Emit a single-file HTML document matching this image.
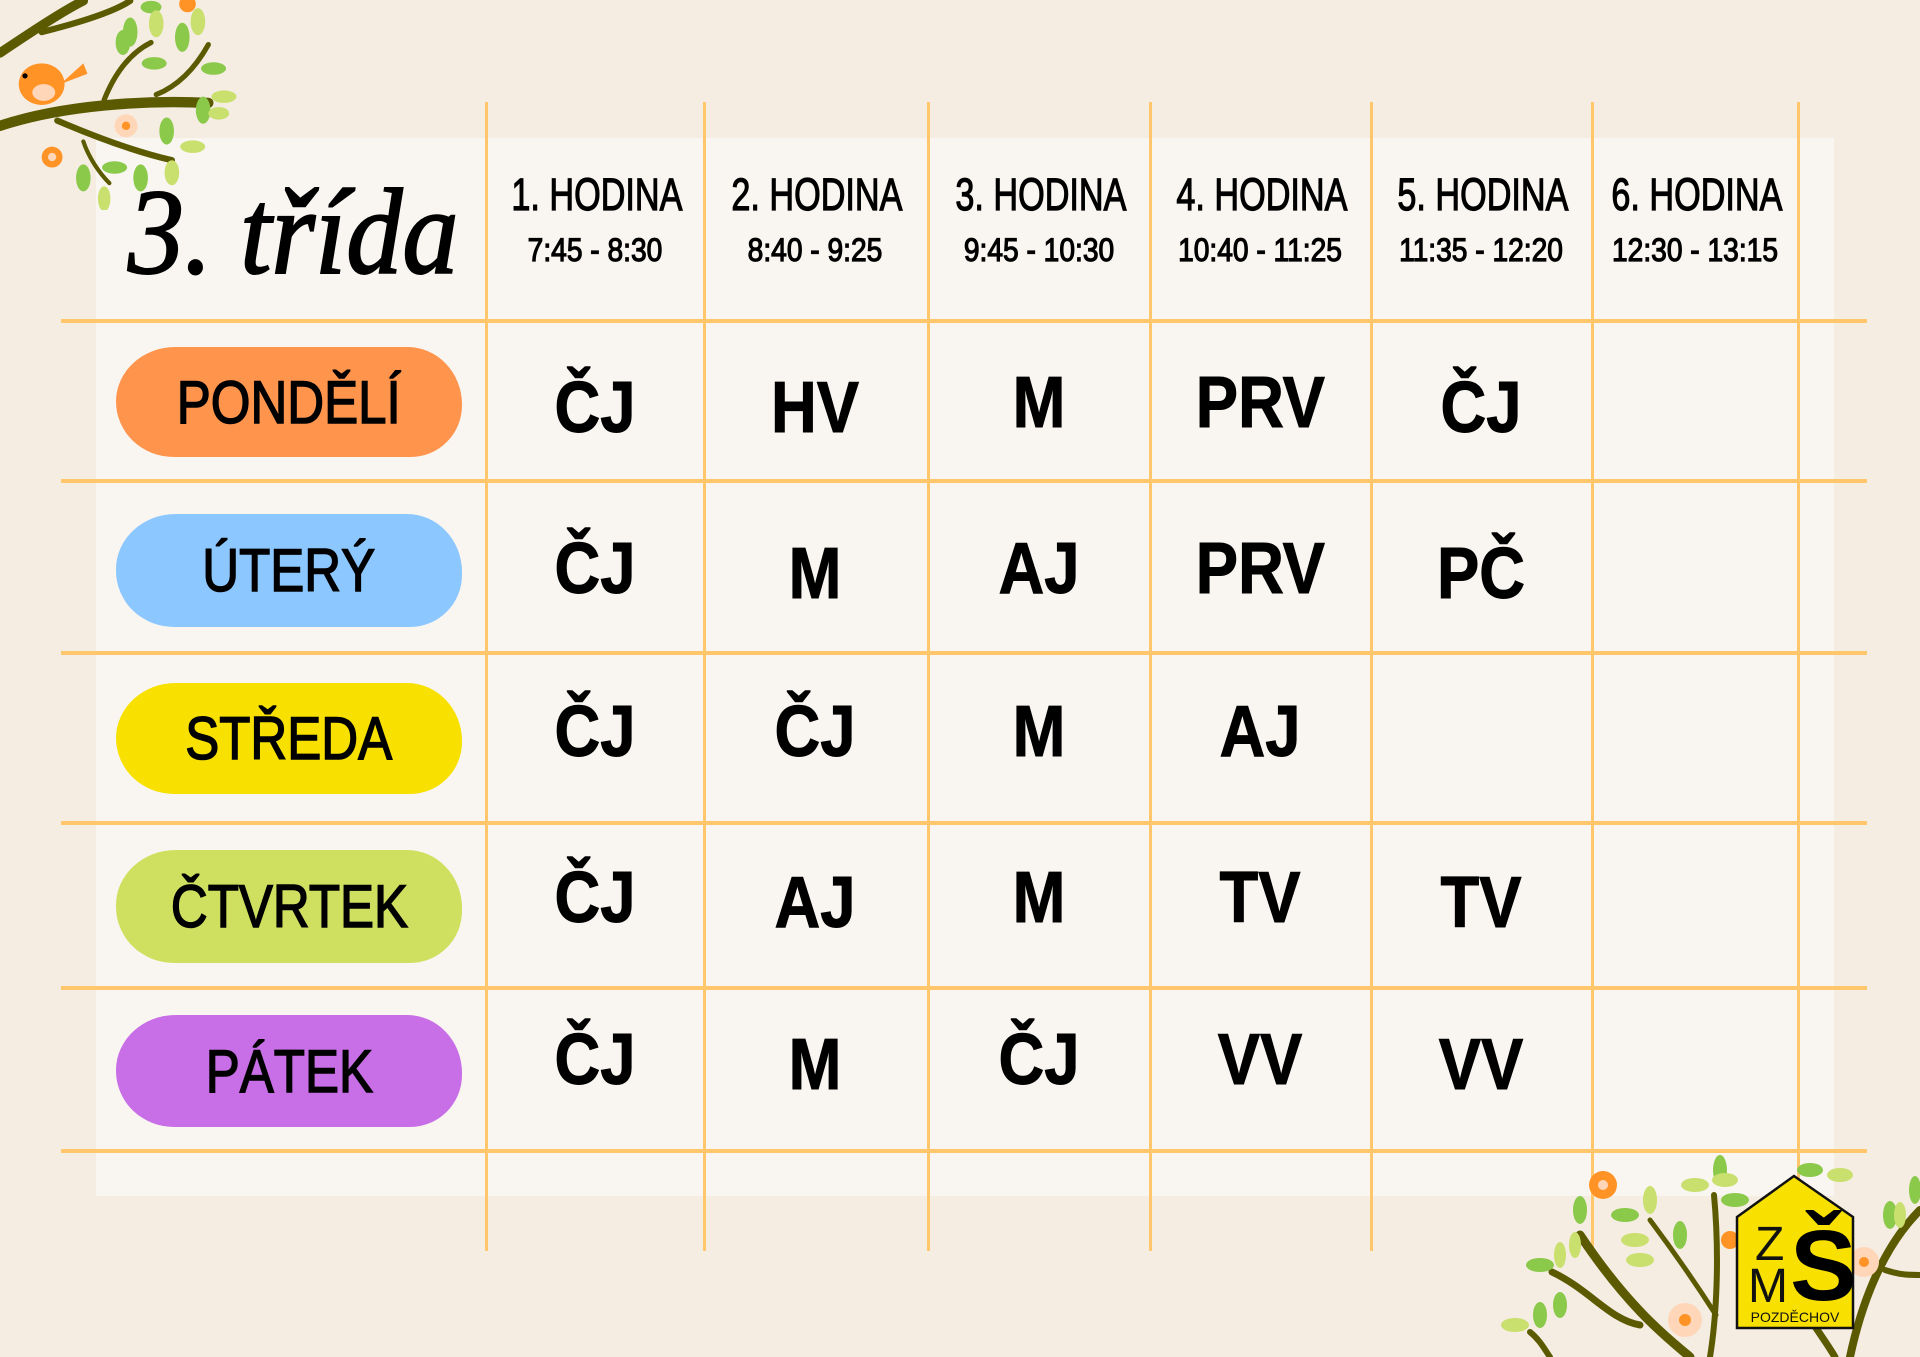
<!DOCTYPE html>
<html><head><meta charset="utf-8"><style>
*{margin:0;padding:0;box-sizing:border-box}
body{width:1920px;height:1357px;background:#f5ede2;position:relative;overflow:hidden;font-family:"Liberation Sans",sans-serif;color:#000}
.panel{position:absolute;left:96px;top:138px;width:1738px;height:1058px;background:#f9f6f1}
.v{position:absolute;top:102px;width:3px;height:1149px;background:#ffc66b}
.h{position:absolute;left:61px;width:1806px;height:4px;background:#ffc66b}
.hd{position:absolute;width:220px;text-align:center;white-space:nowrap;-webkit-text-stroke:1.2px #000}
.hd .a{position:absolute;left:0;width:100%;top:170px;font-size:45px;line-height:50px;transform:scaleX(.76)}
.hd .b{position:absolute;left:0;width:100%;top:230px;font-size:32px;line-height:40px;transform:scaleX(.88)}
.pill{position:absolute;left:116px;width:346px;border-radius:60px 55px 52px 58px / 55px 58px 52px 56px;display:flex;align-items:center;justify-content:center;white-space:nowrap}
.pill span{display:inline-block;font-size:60px;transform:scaleX(.85);-webkit-text-stroke:1.5px #000}
.c{position:absolute;width:220px;height:90px;line-height:90px;text-align:center;font-weight:bold;font-size:72px;white-space:nowrap}
.c span{display:inline-block;transform:scaleX(.88);-webkit-text-stroke:1px #000}
.title{position:absolute;left:128px;top:168px;font-family:"Liberation Serif",serif;font-style:italic;font-size:122px;line-height:130px;transform:scaleX(.92);transform-origin:left;white-space:nowrap;-webkit-text-stroke:2px #000}
</style></head><body>
<div class="panel"></div>
<div class="v" style="left:485px"></div><div class="v" style="left:703px"></div><div class="v" style="left:927px"></div><div class="v" style="left:1149px"></div><div class="v" style="left:1370px"></div><div class="v" style="left:1591px"></div><div class="v" style="left:1797px"></div>
<div class="h" style="top:319px"></div><div class="h" style="top:479px"></div><div class="h" style="top:651px"></div><div class="h" style="top:821px"></div><div class="h" style="top:986px"></div><div class="h" style="top:1149px"></div>

<div class="title">3. třída</div>

<div class="hd" style="left:485px"><div class="a">1. HODINA</div><div class="b">7:45 - 8:30</div></div>
<div class="hd" style="left:705px"><div class="a">2. HODINA</div><div class="b">8:40 - 9:25</div></div>
<div class="hd" style="left:929px"><div class="a">3. HODINA</div><div class="b">9:45 - 10:30</div></div>
<div class="hd" style="left:1150px"><div class="a">4. HODINA</div><div class="b">10:40 - 11:25</div></div>
<div class="hd" style="left:1371px"><div class="a">5. HODINA</div><div class="b">11:35 - 12:20</div></div>
<div class="hd" style="left:1585px"><div class="a">6. HODINA</div><div class="b">12:30 - 13:15</div></div>

<div class="pill" style="top:347px;height:110px;background:#ff944d"><span>PONDĚLÍ</span></div>
<div class="pill" style="top:514px;height:113px;background:#8cc8ff"><span>ÚTERÝ</span></div>
<div class="pill" style="top:683px;height:111px;background:#f8e100"><span>STŘEDA</span></div>
<div class="pill" style="top:850px;height:113px;background:#cfe060"><span>ČTVRTEK</span></div>
<div class="pill" style="top:1015px;height:112px;background:#c86ee6"><span>PÁTEK</span></div>

<div class="c" style="left:485px;top:363px"><span>ČJ</span></div>
<div class="c" style="left:705px;top:363px"><span>HV</span></div>
<div class="c" style="left:929px;top:358px"><span>M</span></div>
<div class="c" style="left:1150px;top:358px"><span>PRV</span></div>
<div class="c" style="left:1371px;top:363px"><span>ČJ</span></div>
<div class="c" style="left:485px;top:524px"><span>ČJ</span></div>
<div class="c" style="left:705px;top:529px"><span>M</span></div>
<div class="c" style="left:929px;top:524px"><span>AJ</span></div>
<div class="c" style="left:1150px;top:524px"><span>PRV</span></div>
<div class="c" style="left:1371px;top:529px"><span>PČ</span></div>
<div class="c" style="left:485px;top:687px"><span>ČJ</span></div>
<div class="c" style="left:705px;top:687px"><span>ČJ</span></div>
<div class="c" style="left:929px;top:687px"><span>M</span></div>
<div class="c" style="left:1150px;top:687px"><span>AJ</span></div>
<div class="c" style="left:485px;top:853px"><span>ČJ</span></div>
<div class="c" style="left:705px;top:858px"><span>AJ</span></div>
<div class="c" style="left:929px;top:853px"><span>M</span></div>
<div class="c" style="left:1150px;top:853px"><span>TV</span></div>
<div class="c" style="left:1371px;top:858px"><span>TV</span></div>
<div class="c" style="left:485px;top:1015px"><span>ČJ</span></div>
<div class="c" style="left:705px;top:1020px"><span>M</span></div>
<div class="c" style="left:929px;top:1015px"><span>ČJ</span></div>
<div class="c" style="left:1150px;top:1015px"><span>VV</span></div>
<div class="c" style="left:1371px;top:1020px"><span>VV</span></div>

<svg style="position:absolute;left:0;top:0" width="250" height="210" viewBox="0 0 240 200">
<g fill="none" stroke="#5b5a00" stroke-linecap="round">
<path d="M0 120 C60 100 140 95 200 98" stroke-width="10"/>
<path d="M0 50 C30 30 60 10 80 0" stroke-width="9"/>
<path d="M40 30 C80 20 110 10 125 0" stroke-width="6"/>
<path d="M100 95 C110 70 125 50 145 40" stroke-width="5"/>
<path d="M150 90 C175 80 190 60 200 42" stroke-width="5"/>
<path d="M55 115 C90 130 130 145 165 153" stroke-width="6"/>
<path d="M80 135 C85 150 95 165 105 175" stroke-width="4"/>
</g>
<g fill="#8bc94a">
<ellipse cx="125" cy="30" rx="7" ry="14"/><ellipse cx="148" cy="60" rx="12" ry="6"/><ellipse cx="175" cy="35" rx="7" ry="14"/><ellipse cx="205" cy="65" rx="12" ry="6"/><ellipse cx="195" cy="105" rx="7" ry="13"/><ellipse cx="160" cy="125" rx="7" ry="13"/><ellipse cx="135" cy="170" rx="7" ry="13"/><ellipse cx="80" cy="170" rx="7" ry="13"/><ellipse cx="110" cy="160" rx="12" ry="6"/><ellipse cx="118" cy="40" rx="7" ry="12"/><ellipse cx="145" cy="6" rx="10" ry="6"/>
</g>
<g fill="#c9df6e">
<ellipse cx="150" cy="22" rx="7" ry="13"/><ellipse cx="190" cy="20" rx="7" ry="13"/><ellipse cx="215" cy="92" rx="12" ry="6"/><ellipse cx="185" cy="140" rx="12" ry="6"/><ellipse cx="100" cy="190" rx="6" ry="12"/><ellipse cx="165" cy="165" rx="7" ry="12"/><ellipse cx="210" cy="108" rx="10" ry="6"/>
</g>
<ellipse cx="40" cy="80" rx="22" ry="20" fill="#ff9326"/>
<path d="M58 80 L80 60 L84 70 Z" fill="#ff9326"/>
<ellipse cx="42" cy="88" rx="11" ry="8" fill="#ffd6b8"/>
<circle cx="24" cy="72" r="2.5" fill="#000"/>
<circle cx="50" cy="150" r="10" fill="#ff9326"/><circle cx="50" cy="150" r="4" fill="#ffd6b8"/>
<circle cx="121" cy="120" r="11" fill="#ffd6b8"/><circle cx="121" cy="120" r="4" fill="#ff9326"/>
<circle cx="180" cy="3" r="8" fill="#ff9326"/>
</svg>

<svg style="position:absolute;left:1480px;top:1140px" width="440" height="217" viewBox="0 0 440 217">
<g fill="none" stroke="#5b5a00" stroke-linecap="round">
<path d="M100 95 C150 170 190 200 210 217" stroke-width="9"/>
<path d="M72 132 C110 150 130 180 160 185" stroke-width="7"/>
<path d="M50 192 C60 200 65 210 70 217" stroke-width="6"/>
<path d="M170 80 C200 120 220 150 236 175" stroke-width="5"/>
<path d="M234 55 C240 120 236 180 230 217" stroke-width="6"/>
<path d="M310 150 C330 180 345 200 355 217" stroke-width="7"/>
<path d="M440 70 C400 110 380 170 370 217" stroke-width="8"/>
<path d="M405 130 C420 135 430 135 440 135" stroke-width="6"/>
</g>
<g fill="#8bc94a">
<ellipse cx="100" cy="70" rx="7" ry="14"/><ellipse cx="145" cy="75" rx="14" ry="7"/><ellipse cx="200" cy="95" rx="7" ry="14"/><ellipse cx="240" cy="30" rx="7" ry="15"/><ellipse cx="255" cy="60" rx="14" ry="7"/><ellipse cx="330" cy="30" rx="13" ry="7"/><ellipse cx="410" cy="75" rx="7" ry="14"/><ellipse cx="60" cy="125" rx="14" ry="7"/><ellipse cx="60" cy="175" rx="7" ry="13"/><ellipse cx="80" cy="165" rx="7" ry="13"/><ellipse cx="435" cy="50" rx="6" ry="14"/>
</g>
<g fill="#c9df6e">
<ellipse cx="170" cy="60" rx="7" ry="14"/><ellipse cx="215" cy="45" rx="14" ry="7"/><ellipse cx="155" cy="100" rx="14" ry="7"/><ellipse cx="160" cy="120" rx="14" ry="7"/><ellipse cx="80" cy="115" rx="6" ry="13"/><ellipse cx="360" cy="35" rx="13" ry="7"/><ellipse cx="420" cy="75" rx="6" ry="13"/><ellipse cx="35" cy="185" rx="14" ry="7"/><ellipse cx="95" cy="105" rx="6" ry="13"/><ellipse cx="245" cy="40" rx="13" ry="7"/>
</g>
<circle cx="123" cy="45" r="14" fill="#ff9326"/><circle cx="123" cy="45" r="5" fill="#ffd6b8"/>
<circle cx="205" cy="180" r="17" fill="#ffd6b8"/><circle cx="205" cy="180" r="6" fill="#ff9326"/>
<circle cx="384" cy="122" r="15" fill="#ffd6b8"/><circle cx="384" cy="122" r="5" fill="#ff9326"/>
<circle cx="250" cy="100" r="9" fill="#ff9326"/>
<polygon points="257,77 314,36 373,77 373,188 257,188" fill="#f8e100" stroke="#111" stroke-width="2.5"/>
<text x="275" y="120" font-family="Liberation Sans" font-size="48" fill="#111">Z</text>
<text x="268" y="162" font-family="Liberation Sans" font-size="48" fill="#111">M</text>
<text x="310" y="160" font-family="Liberation Sans" font-weight="bold" font-size="100" fill="#000">Š</text>
<text x="315" y="182" text-anchor="middle" font-family="Liberation Sans" font-size="14" fill="#111">POZDĚCHOV</text>
</svg>
</body></html>
